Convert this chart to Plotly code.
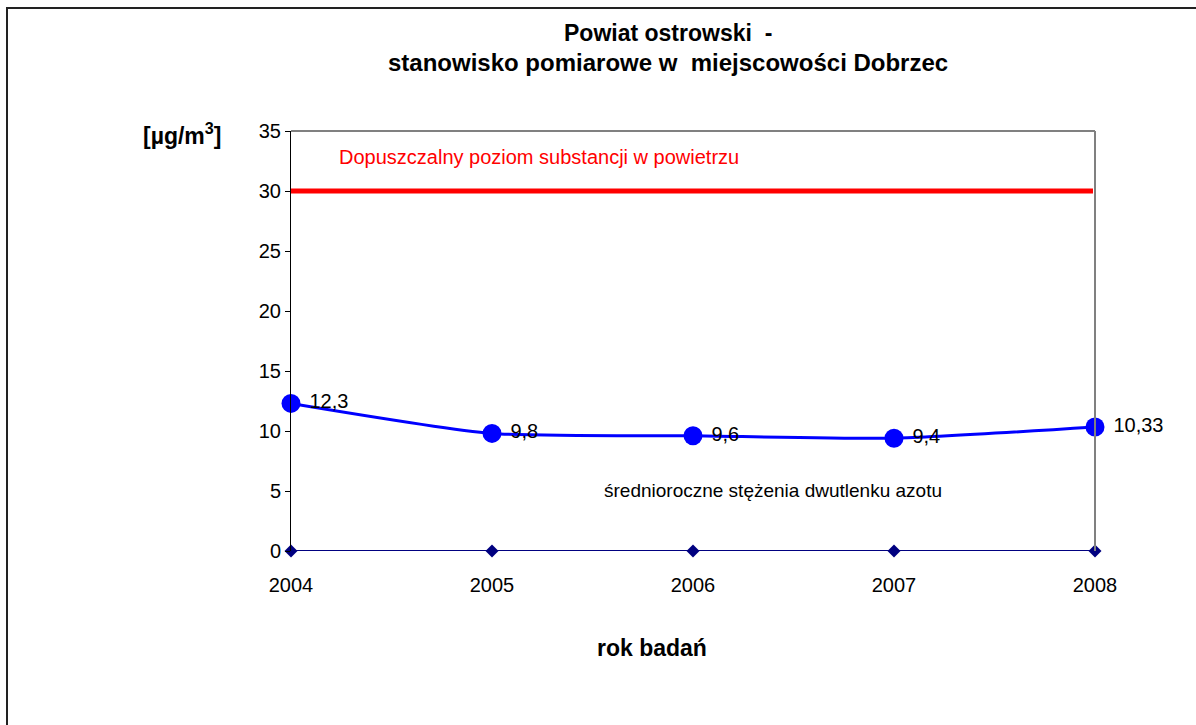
import plotly.graph_objects as go

years = [2004, 2005, 2006, 2007, 2008]
no2 = [12.3, 9.8, 9.6, 9.4, 10.33]
no2_labels = ["12,3", "9,8", "9,6", "9,4", "10,33"]
baseline = [0, 0, 0, 0, 0]
limit_value = 30
y_ticks = [0, 5, 10, 15, 20, 25, 30, 35]

FONT = "Liberation Sans, Arial, sans-serif"

fig = go.Figure()

# limit line
fig.add_trace(go.Scatter(x=[years[0], years[-1] - 0.01], y=[limit_value, limit_value], mode="lines",
                         line=dict(color="#FF0000", width=5), hoverinfo="skip", showlegend=False))

# zero series
fig.add_trace(go.Scatter(x=years, y=baseline, mode="lines+markers",
                         line=dict(color="#000080", width=2),
                         marker=dict(symbol="diamond", size=10, color="#000080"),
                         showlegend=False, cliponaxis=False))

# main series
fig.add_trace(go.Scatter(x=years, y=no2, mode="lines+markers+text",
                         line=dict(color="#0000FF", width=3, shape="spline", smoothing=0.6),
                         marker=dict(symbol="circle", size=19, color="#0000FF"),
                         text=[" " + t for t in no2_labels], textposition="middle right",
                         textfont=dict(family=FONT, size=20, color="#000000"),
                         showlegend=False, cliponaxis=False))

fig.update_layout(
    width=1196, height=725,
    margin=dict(l=291, r=101, t=131, b=174),
    paper_bgcolor="white", plot_bgcolor="white",
    font=dict(family=FONT, size=20, color="#000000"),
    xaxis=dict(range=[years[0], years[-1]], tickvals=years, ticktext=[str(y) for y in years],
               showgrid=False, zeroline=False, showline=False, ticks="",
               ticklabelstandoff=20, tickfont=dict(size=20, family=FONT)),
    yaxis=dict(range=[0, 35], tickvals=y_ticks, showgrid=False, zeroline=False,
               showline=True, linecolor="#000000", linewidth=1, ticks="outside",
               ticklen=5, tickcolor="#000000", tickfont=dict(size=20, family=FONT)),
    shapes=[
        dict(type="line", xref="paper", yref="paper", x0=0, x1=1, y0=1, y1=1,
             line=dict(color="#808080", width=2)),
        dict(type="line", xref="paper", yref="paper", x0=1, x1=1, y0=0, y1=1,
             line=dict(color="#808080", width=2)),
        dict(type="rect", xref="paper", yref="paper",
             x0=(7 - 291) / 804, x1=(1210 - 291) / 804,
             y0=(551 - 740) / 420, y1=(551 - 8) / 420,
             line=dict(color="#222222", width=2), layer="below"),
    ],
    annotations=[
        dict(text="<b>Powiat ostrowski  -</b>", xref="paper", yref="paper",
             x=(668 - 291) / 804, y=(551 - 33) / 420, showarrow=False,
             font=dict(size=23, family=FONT), xanchor="center", yanchor="middle"),
        dict(text="<b>stanowisko pomiarowe w  miejscowości Dobrzec</b>", xref="paper", yref="paper",
             x=(668 - 291) / 804, y=(551 - 63) / 420, showarrow=False,
             font=dict(size=24, family=FONT), xanchor="center", yanchor="middle"),
        dict(text="<b>[µg/m<sup>3</sup>]</b>", xref="paper", yref="paper",
             x=(182 - 291) / 804, y=(551 - 134) / 420, showarrow=False,
             font=dict(size=23, family=FONT), xanchor="center", yanchor="middle"),
        dict(text="<b>rok badań</b>", xref="paper", yref="paper",
             x=(652 - 291) / 804, y=(551 - 648) / 420, showarrow=False,
             font=dict(size=23, family=FONT), xanchor="center", yanchor="middle"),
        dict(text="Dopuszczalny poziom substancji w powietrzu", xref="paper", yref="paper",
             x=(337 - 291) / 804, y=(551 - 157) / 420, showarrow=False,
             font=dict(size=20, family=FONT, color="#FF0000"), xanchor="left", yanchor="middle"),
        dict(text="średnioroczne stężenia dwutlenku azotu", xref="paper", yref="paper",
             x=(602 - 291) / 804, y=(551 - 490) / 420, showarrow=False,
             font=dict(size=19, family=FONT, color="#000000"), xanchor="left", yanchor="middle"),
    ],
)

fig.write_html("out.html")
